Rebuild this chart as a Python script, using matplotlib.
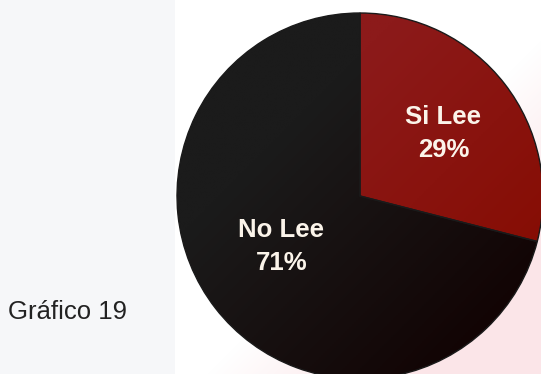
import matplotlib.pyplot as plt
import matplotlib.patches as mpatches
import numpy as np

plt.rcParams['font.family'] = ['Liberation Sans', 'DejaVu Sans']

labels = ['Si Lee', 'No Lee']
values = [29, 71]
colors = ['#8c1a1a', '#1b1b1b']
# shade each slice fades to towards the lower right
shade_to = ['#860c02', '#120404']
label_pos = [(0.456, 0.344), (-0.429, -0.276)]

W, H = 541, 374
fig = plt.figure(figsize=(W / 100, H / 100), dpi=100)
fig.patch.set_facecolor('white')

# background: grey panel on the left, pink tint in the lower right corner
bg = fig.add_axes([0, 0, 1, 1], zorder=0)
yy, xx = np.mgrid[0:H, 0:W]
img = np.ones((H, W, 3))
grey = np.array([0xf6, 0xf7, 0xf9]) / 255
pink = np.array([0xfb, 0xe5, 0xe8]) / 255
img[:, :175] = grey
t = np.clip(((xx - 380) / 120 + (yy - 200) / 120) / 1.6, 0, 1)[..., None]
t[:, :175] = 0
img = img * (1 - t) + pink * t
bg.imshow(img, extent=(0, W, H, 0), aspect='auto')
bg.axis('off')

cx, cy, r = 360, 196, 183
ax = fig.add_axes([(cx - r) / W, (H - cy - r) / H, 2 * r / W, 2 * r / H], zorder=1)
ax.set_facecolor('none')

wedges, _ = ax.pie(values, colors=colors, startangle=90, counterclock=False,
                   wedgeprops=dict(edgecolor='#1a1a1a', linewidth=1))
ax.set_xlim(-1, 1)
ax.set_ylim(-1, 1)
ax.set_aspect('equal')
ax.axis('off')

# diagonal shading inside each slice
gy, gx = np.mgrid[1:-1:200j, -1:1:200j]
g = np.clip((gx - gy) / 2.2 + 0.35, 0, 1)[..., None]
for w, c0, c1 in zip(wedges, colors, shade_to):
    a = np.array(plt.matplotlib.colors.to_rgb(c0))
    b = np.array(plt.matplotlib.colors.to_rgb(c1))
    im = ax.imshow(a * (1 - g) + b * g, extent=(-1, 1, -1, 1), zorder=1.5)
    im.set_clip_path(w)
for w in wedges:
    w.set_facecolor('none')
    w.set_zorder(2)

ax.set_xlim(-1, 1)
ax.set_ylim(-1, 1)

for (x, y), lab, v in zip(label_pos, labels, values):
    ax.text(x, y, f'{lab}\n{v}%', ha='center', va='center', zorder=3,
            color='#fbf4ea', fontsize=18.5, fontweight='bold', linespacing=1.47)

fig.text(8 / W, (H - 319) / H, 'Gráfico 19', fontsize=18.5, color='#222222',
         ha='left', va='baseline', zorder=4)

fig.savefig('out.png', dpi=100)
